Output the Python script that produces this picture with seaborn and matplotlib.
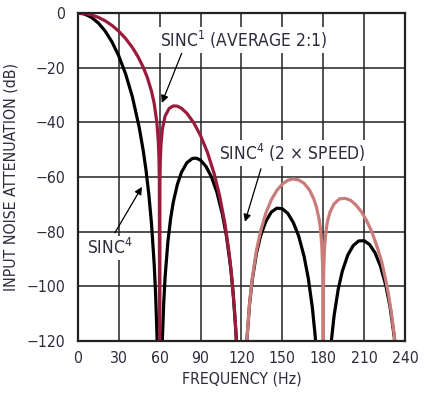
import numpy as np
import pandas as pd
import seaborn as sns
import matplotlib.pyplot as plt
from matplotlib import font_manager

# values (dB), nulls pushed below the -120 floor
sinc4_hz = [0, 5, 10, 15, 20, 25, 30, 35, 40, 45, 48, 50, 52, 54, 56, 57, 58, 59, 60,
            61, 62, 63, 64, 66, 68, 70, 73, 76, 80, 84, 87, 90, 94, 98, 102, 106, 109,
            112, 114, 116, 117, 118, 120,
            122, 123, 124, 126, 128, 131, 134, 138, 142, 146, 150, 154, 158, 162, 166,
            169, 172, 174, 175, 177, 180,
            183, 185, 186, 188, 191, 194, 198, 202, 206, 210, 214, 218, 222, 226, 229,
            232, 233, 235]
sinc4_db = [0, -0.4, -1.6, -3.65, -6.6, -10.56, -15.69, -22.25, -30.68, -41.82, -50.48,
            -57.52, -66.06, -76.91, -91.94, -102.45, -117.07, -141.7, -160,
            -142.8, -119.4, -105.9, -96.6, -83.9, -75.4, -69.2, -62.7, -58.3, -54.77,
            -53.2, -53.11, -53.86, -56.14, -59.96, -65.57, -73.5, -81.6,
            -92.7, -102.9, -117.2, -127.4, -141.7, -160,
            -142.9, -129.2, -119.6, -106.4, -97.4, -88.0, -81.6, -76.1, -72.8, -71.4,
            -71.6, -73.3, -76.6, -81.6, -89.1, -96.9, -107.6, -117.6, -123.9, -141.8, -160,
            -143.0, -125.9, -119.9, -110.7, -101.1, -94.5, -88.6, -85.1, -83.4, -83.3,
            -84.7, -87.7, -92.6, -99.8, -107.4, -118.0, -122.6, -134.2]

avg_hz = [0, 5, 10, 15, 20, 25, 30, 35, 40, 44, 48, 51, 54, 56, 58, 59, 59.5, 59.8, 60,
          60.2, 60.5, 61, 62, 64, 67, 70, 73, 76, 80, 85, 90, 95, 100, 104, 108, 111,
          113, 115, 116, 117, 118, 120]
avg_db = [0, -0.17, -0.7, -1.59, -2.85, -4.52, -6.66, -9.31, -12.62, -15.87, -19.88,
          -23.66, -28.58, -33.1, -40.2, -46.8, -53.1, -61.2, -160,
          -61.4, -53.6, -47.9, -42.5, -37.7, -34.9, -33.99, -34.08, -34.86, -36.7,
          -40.14, -44.83, -50.9, -58.77, -66.85, -77.35, -87.9, -97.0, -109.1, -117.1,
          -127.3, -141.7, -160]

fast_hz = [122, 123, 124, 126, 128, 131, 134, 138, 142, 146, 150, 154, 158, 162, 166,
           170, 173, 175, 177, 178, 179, 179.5, 179.8, 180,
           180.2, 180.5, 181, 182, 183, 185, 188, 192, 196, 200, 204, 208, 212, 216,
           220, 223, 226, 228, 230, 232, 233, 235]
fast_db = [-142.8, -129.0, -119.4, -106.0, -96.8, -86.9, -79.9, -73.1, -68.3, -64.9,
           -62.6, -61.2, -60.7, -61.1, -62.3, -64.8, -67.9, -70.9, -75.5, -79.1, -85.3,
           -91.4, -99.4, -160,
           -99.5, -91.6, -85.7, -79.9, -76.6, -72.8, -69.8, -68.0, -67.8, -68.5, -70.2,
           -72.7, -76.1, -80.5, -86.2, -91.2, -98.0, -103.3, -109.6, -117.4, -122.1,
           -133.9]

x_ticks = [0, 30, 60, 90, 120, 150, 180, 210, 240]
y_ticks = [0, -20, -40, -60, -80, -100, -120]
y_labels = ["0", "\u221220", "\u221240", "\u221260", "\u221280", "\u2212100", "\u2212120"]

txt = "#2c2c3c"

# the reference uses a condensed grotesque; take a narrow face if one is installed
narrow = [f for f in font_manager.fontManager.ttflist
          if (f.stretch in ("condensed", "semi-condensed", "extra-condensed")
              or "Narrow" in f.name or "Condensed" in f.name)
          and f.style == "normal" and f.weight in (400, "normal", "regular", "book")]
if narrow:
    fam = narrow[0].name
    plt.rcParams['font.stretch'] = narrow[0].stretch
    fs = 12.5
else:
    fam = "Liberation Sans"
    fs = 11.5
plt.rcParams['font.family'] = [fam, 'DejaVu Sans']
plt.rcParams['mathtext.fontset'] = 'custom'
plt.rcParams['mathtext.rm'] = fam
plt.rcParams['mathtext.default'] = 'regular'
axis_fs = fs - 1.2

fig = plt.figure(figsize=(4.35, 3.94), dpi=100)
ax = fig.add_axes([0.179, 0.1345, 0.752, 0.8325])

ax.set_axisbelow(True)
ax.grid(True, color="#222222", lw=1.1)

sns.lineplot(x=sinc4_hz, y=sinc4_db, ax=ax, color="black", lw=2.3, sort=False)
sns.lineplot(x=fast_hz, y=fast_db, ax=ax, color="#c97c7a", lw=2.3, sort=False)
sns.lineplot(x=avg_hz, y=avg_db, ax=ax, color="#9b1b3b", lw=2.3, sort=False)

ax.set_xlim(0, 240)
ax.set_ylim(-120, 0)
ax.set_xticks(x_ticks)
ax.set_yticks(y_ticks)
ax.set_yticklabels(y_labels)
ax.tick_params(length=0, labelsize=axis_fs, colors=txt)
ax.tick_params(axis="y", pad=9)
ax.tick_params(axis="x", pad=7)
for s in ax.spines.values():
    s.set_linewidth(1.6)
    s.set_color("#222222")

ax.set_xlabel("FREQUENCY (Hz)", fontsize=axis_fs, color=txt, labelpad=4)
ax.set_ylabel("INPUT NOISE ATTENUATION (dB)", fontsize=axis_fs, color=txt, labelpad=6)

box = dict(facecolor="white", edgecolor="none", pad=1.5)
arrow = dict(arrowstyle="-|>", color="black", lw=0.9, mutation_scale=11, shrinkA=0, shrinkB=0)

ax.annotate("", xy=(61.6, -32.9), xytext=(76.3, -14.6), arrowprops=arrow)
ax.text(60.2, -9.9, "SINC$^1$ (AVERAGE 2:1)", fontsize=fs, color=txt, va="center", ha="left", bbox=box)

ax.annotate("", xy=(122.6, -76.4), xytext=(134.3, -57.0), arrowprops=arrow)
ax.text(103.5, -51.2, "SINC$^4$ (2 \u00d7 SPEED)", fontsize=fs, color=txt, va="center", ha="left", bbox=box)

ax.annotate("", xy=(47.0, -63.6), xytext=(27.2, -80.4), arrowprops=arrow)
ax.text(6.6, -85.9, "SINC$^4$", fontsize=fs, color=txt, va="center", ha="left", bbox=box)

fig.savefig("out.png", dpi=100)
